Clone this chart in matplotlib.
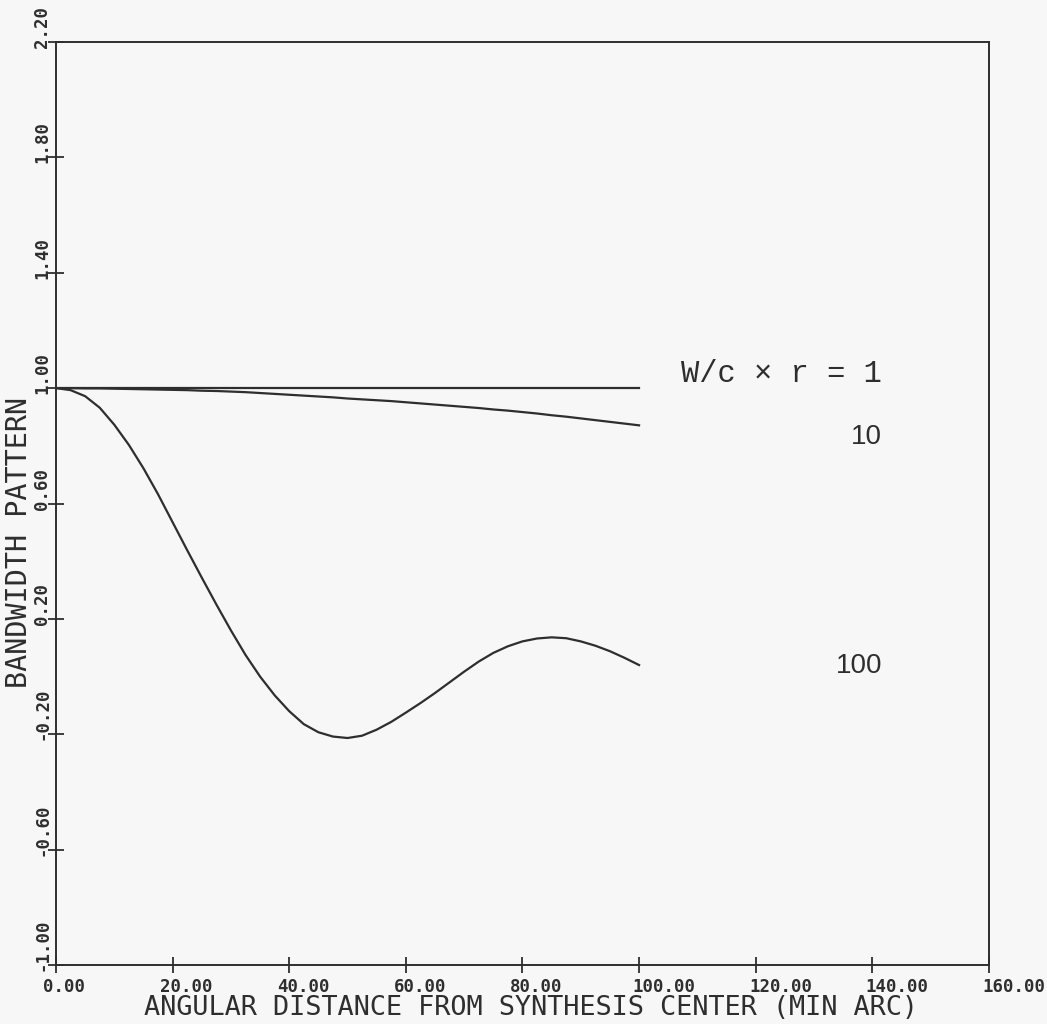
import matplotlib
matplotlib.use("Agg")
import matplotlib.pyplot as plt
from matplotlib.transforms import ScaledTranslation

# ---- data ----
x_vals = [0, 2.5, 5, 7.5, 10, 12.5, 15, 17.5, 20, 22.5, 25, 27.5, 30, 32.5, 35, 37.5, 40,
          42.5, 45, 47.5, 50, 52.5, 55, 57.5, 60, 62.5, 65, 67.5, 70, 72.5, 75, 77.5, 80,
          82.5, 85, 87.5, 90, 92.5, 95, 97.5, 100]
x_flat = [0, 100]
curve_1 = [1.0, 1.0]
curve_10 = [1.0, 1.0, 0.999, 0.999, 0.998, 0.997, 0.996, 0.995, 0.994, 0.993, 0.991, 0.990,
            0.988, 0.986, 0.983, 0.980, 0.977, 0.974, 0.971, 0.968, 0.964, 0.961, 0.958,
            0.955, 0.951, 0.947, 0.943, 0.939, 0.935, 0.931, 0.926, 0.922, 0.917, 0.912,
            0.906, 0.901, 0.895, 0.889, 0.883, 0.877, 0.871]
curve_100 = [1.0, 0.993, 0.972, 0.932, 0.873, 0.803, 0.722, 0.632, 0.535, 0.438, 0.343,
             0.25, 0.16, 0.075, 0.0, -0.065, -0.12, -0.165, -0.193, -0.208, -0.213, -0.205,
             -0.184, -0.157, -0.125, -0.092, -0.057, -0.02, 0.017, 0.052, 0.082, 0.105,
             0.122, 0.132, 0.136, 0.133, 0.122, 0.107, 0.088, 0.065, 0.04]

x_ticks = [0, 20, 40, 60, 80, 100, 120, 140, 160]
x_tick_labels = ["0.00", "20.00", "40.00", "60.00", "80.00", "100.00", "120.00", "140.00", "160.00"]
y_ticks = [-1.0, -0.6, -0.2, 0.2, 0.6, 1.0, 1.4, 1.8, 2.2]
y_tick_labels = ["-1.00", "-0.60", "-0.20", "0.20", "0.60", "1.00", "1.40", "1.80", "2.20"]

labels_text = ["W/c \u00d7 r = 1", "10", "100"]
labels_y = [1.05, 0.83, 0.035]

bg = "#f6f7f6"
ink = "#2e2e2e"

fig = plt.figure(figsize=(10.47, 10.24), dpi=100, facecolor=bg)
ax = fig.add_axes([0.0535, 0.0576, 0.891, 0.9014], facecolor=bg)

ax.plot(x_flat, curve_1, color=ink, lw=1.6)
ax.plot(x_vals, curve_10, color=ink, lw=1.6)
ax.plot(x_vals, curve_100, color=ink, lw=1.6)

ax.set_xlim(0, 160)
ax.set_ylim(-1.0, 2.2)
for s in ax.spines.values():
    s.set_color(ink)
    s.set_linewidth(1.4)

ax.set_xticks(x_ticks)
ax.set_xticklabels(x_tick_labels, fontfamily="DejaVu Sans Mono", fontweight="bold",
                   fontsize=12.5, color=ink)
ax.set_yticks(y_ticks)
ax.set_yticklabels(y_tick_labels, fontfamily="DejaVu Sans Mono", fontweight="bold",
                   fontsize=12.5, color=ink, rotation=90, va="bottom", ha="center")
ax.tick_params(axis="both", direction="inout", length=12, width=1.3, color=ink)
ax.tick_params(axis="x", pad=3)
ax.tick_params(axis="y", pad=4)

offs = {4: 8, 5: 14, 6: 25}
for lab in ax.get_xticklabels():
    dx = offs[len(lab.get_text())]
    lab.set_transform(lab.get_transform() + ScaledTranslation(dx / 100, 0, fig.dpi_scale_trans))
for lab in ax.get_yticklabels():
    lab.set_transform(lab.get_transform() + ScaledTranslation(0, -6 / 100, fig.dpi_scale_trans))

fig.text(531 / 1047, 1 - 1008 / 1024, "ANGULAR DISTANCE FROM SYNTHESIS CENTER (MIN ARC)",
         fontfamily="DejaVu Sans Mono", fontsize=19.4, color=ink, ha="center", va="center")
fig.text(19 / 1047, 1 - 542 / 1024, "BANDWIDTH PATTERN", fontfamily="DejaVu Sans Mono",
         fontsize=20.5, color=ink, ha="center", va="center", rotation=90)

x_right = 141.7
ax.text(x_right, labels_y[0], labels_text[0], fontfamily="Liberation Mono", fontsize=22,
        color=ink, ha="right", va="center")
ax.text(x_right, labels_y[1], labels_text[1], fontfamily="Liberation Sans", fontsize=20,
        color=ink, ha="right", va="center")
ax.text(x_right, labels_y[2], labels_text[2], fontfamily="Liberation Sans", fontsize=20,
        color=ink, ha="right", va="center")

fig.savefig("out.png", dpi=100, facecolor=bg)
